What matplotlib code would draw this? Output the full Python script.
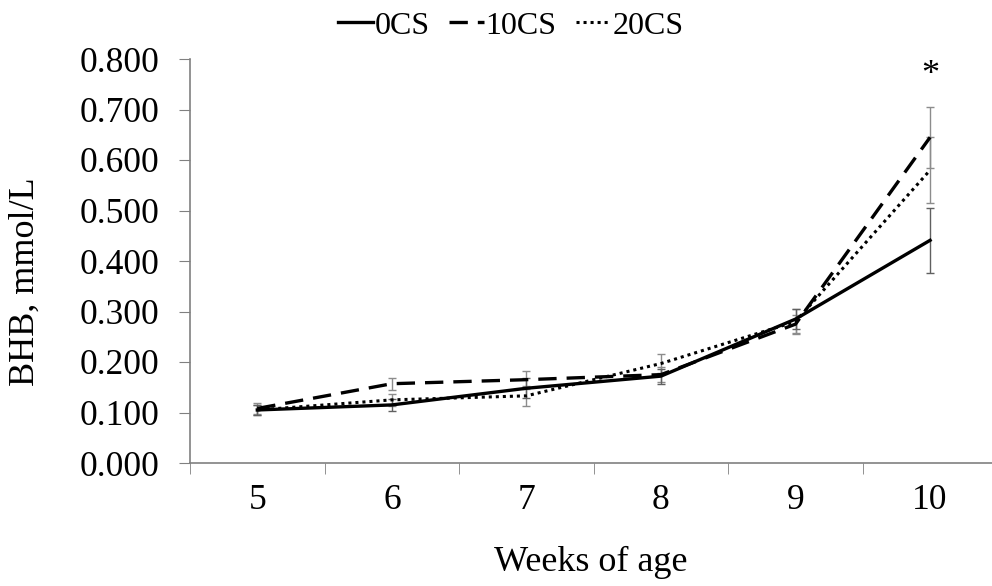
import numpy as np
import matplotlib.pyplot as plt

plt.rcParams['font.family'] = ['Liberation Serif', 'DejaVu Serif']

weeks = [5, 6, 7, 8, 9, 10]
cs0 = [0.105, 0.115, 0.148, 0.172, 0.285, 0.441]
cs10 = [0.108, 0.157, 0.165, 0.175, 0.275, 0.645]
cs20 = [0.105, 0.125, 0.133, 0.197, 0.280, 0.580]
err0 = [0.010, 0.012, 0.020, 0.015, 0.020, 0.064]
err10 = [0.010, 0.012, 0.018, 0.015, 0.018, 0.060]
err20 = [0.010, 0.012, 0.020, 0.018, 0.025, 0.065]
yticks = [0.0, 0.1, 0.2, 0.3, 0.4, 0.5, 0.6, 0.7, 0.8]

fig = plt.figure(figsize=(9.92, 5.86), dpi=100)
ax = fig.add_axes([190/992, 123/586, 1 - 190/992, (463-59)/586])

ecol = '#8c8c8c'
ax.errorbar(weeks, cs20, yerr=err20, color='black', ls=(0, (1, 1.3)), lw=2.2,
            ecolor=ecol, elinewidth=1, capsize=3, label='20CS', zorder=3)
ax.errorbar(weeks, cs10, yerr=err10, color='black', ls=(0, (5.5, 3)), lw=2.4,
            ecolor=ecol, elinewidth=1, capsize=3, label='10CS', zorder=3)
ax.errorbar(weeks, cs0, yerr=err0, color='black', ls='-', lw=2.4,
            ecolor='#606060', elinewidth=1, capsize=3, label='0CS', zorder=3)

ax.text(10, 0.768, '*', ha='center', va='center', fontsize=26)

ax.set_xlim(4.5, 10.46)
ax.set_ylim(0, 0.8)
ax.set_xticks(weeks)
ax.set_xticks(np.arange(4.5, 10.5, 1.0), minor=True)
ax.tick_params(axis='x', which='major', length=0, labelsize=25.5, pad=15)
ax.tick_params(axis='x', which='minor', length=8, color='#808080', direction='out')
ax.set_yticks(yticks)
ax.set_yticklabels([f'{v:.3f}' for v in yticks])
ax.tick_params(axis='y', length=8, color='#808080', labelsize=25.5, pad=14)

for s in ['top', 'right']:
    ax.spines[s].set_visible(False)
for s in ['left', 'bottom']:
    ax.spines[s].set_color('#808080')
    ax.spines[s].set_linewidth(1.2)

ax.set_xlabel('Weeks of age', fontsize=26)
ax.set_ylabel('BHB, mmol/L', fontsize=26)
ax.xaxis.set_label_coords(0.5, -0.205)
ax.yaxis.set_label_coords(-0.185, 0.45)

h, l = ax.get_legend_handles_labels()
order = [2, 1, 0]
fig.legend([h[i][0] for i in order], [l[i] for i in order], loc='upper center',
           bbox_to_anchor=(0.515, 1.03), ncol=3, frameon=False, fontsize=23,
           handlelength=1.1, handletextpad=0.05, columnspacing=0.6)

fig.savefig('out.png', dpi=100)
